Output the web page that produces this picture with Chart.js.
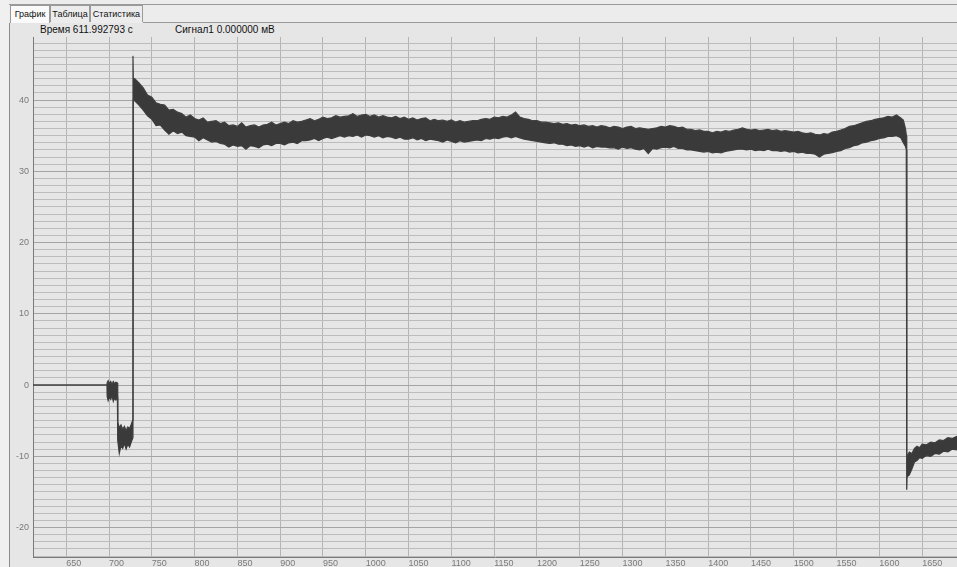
<!DOCTYPE html>
<html>
<head>
<meta charset="utf-8">
<script src="https://cdn.jsdelivr.net/npm/chart.js@4.4.1/dist/chart.umd.min.js"></script>
<style>
  html,body{margin:0;padding:0;}
  body{width:957px;height:567px;overflow:hidden;background:#e6e6e6;position:relative;font-family:"Liberation Sans",Arial,sans-serif;}
  #leftstrip{position:absolute;left:0;top:0;width:9px;height:567px;background:#f0f0f0;}
  #frame{position:absolute;left:9px;top:23px;width:1px;height:544px;background:#8a8a8a;}
  #topbar{position:absolute;left:9px;top:0;width:948px;height:23px;background:#ececec;}
  #topline{position:absolute;left:9px;top:4px;width:948px;height:1px;background:#9a9a9a;}
  #tabline{position:absolute;left:143px;top:22px;width:814px;height:1px;background:#9a9a9a;}
  .tab{position:absolute;top:5px;height:17px;border:1px solid #9a9a9a;border-bottom:none;font-size:9px;line-height:17px;text-align:center;color:#111;background:#ececec;box-sizing:border-box;}
  #tab1{left:10px;width:40px;background:#fafafa;height:18px;}
  #tab2{left:50px;width:40px;}
  #tab3{left:90px;width:53px;}
  .hdr{position:absolute;top:23px;font-size:10px;line-height:13px;color:#111;}
  #h1{left:40px;}
  #h2{left:175px;}
  #c{position:absolute;left:0;top:0;}
</style>
</head>
<body>
<div id="leftstrip"></div>
<div id="topbar"></div>
<div id="topline"></div>
<div id="tabline"></div>
<div id="frame"></div>
<div class="tab" id="tab1">График</div>
<div class="tab" id="tab2">Таблица</div>
<div class="tab" id="tab3">Статистика</div>
<div class="hdr" id="h1">Время 611.992793 с</div>
<div class="hdr" id="h2">Сигнал1 0.000000 мВ</div>
<canvas id="c" width="957" height="567"></canvas>
<script>
// ---- data: time (s) and the upper / lower edge of the noisy signal band (mV) ----
const timeX = [
  611.2, 697.6, 697.8, 699, 700.5, 702, 703.5, 705, 706.5, 708, 709.8,
  710.2, 712, 714, 716, 718, 720, 722, 724, 726, 727.8, 728, 728.4,
  730, 735, 740, 745, 750, 755, 760, 765, 770, 775,
  780, 785, 790, 795, 800, 805, 810, 815, 820, 825,
  830, 835, 840, 845, 850, 855, 860, 865, 870, 875,
  880, 885, 890, 895, 900, 905, 910, 915, 920, 925,
  930, 935, 940, 945, 950, 955, 960, 965, 970, 975,
  980, 985, 990, 995, 1000, 1005, 1010, 1015, 1020, 1025,
  1030, 1035, 1040, 1045, 1050, 1055, 1060, 1065, 1070, 1075,
  1080, 1085, 1090, 1095, 1100, 1105, 1110, 1115, 1120, 1125,
  1130, 1135, 1140, 1145, 1150, 1155, 1160, 1165, 1170, 1175,
  1180, 1185, 1190, 1195, 1200, 1205, 1210, 1215, 1220, 1225,
  1230, 1235, 1240, 1245, 1250, 1255, 1260, 1265, 1270, 1275,
  1280, 1285, 1290, 1295, 1300, 1305, 1310, 1315, 1320, 1325,
  1330, 1335, 1340, 1345, 1350, 1355, 1360, 1365, 1370, 1375,
  1380, 1385, 1390, 1395, 1400, 1405, 1410, 1415, 1420, 1425,
  1430, 1435, 1440, 1445, 1450, 1455, 1460, 1465, 1470, 1475,
  1480, 1485, 1490, 1495, 1500, 1505, 1510, 1515, 1520, 1525,
  1530, 1535, 1540, 1545, 1550, 1555, 1560, 1565, 1570, 1575,
  1580, 1585, 1590, 1595, 1600, 1605, 1610, 1615, 1620, 1625,
  1628, 1630.5, 1631.6, 1632, 1632.4, 1635, 1638, 1641, 1644, 1647,
  1650, 1655, 1660, 1665, 1670, 1675, 1680, 1685, 1690.7];
const upperMv = [
  0, 0, 0.3, 0.6, 0.2, 0.5, 0.1, 0.5, 0.2, 0.4, 0.3,
  -5.2, -6.0, -5.6, -6.2, -5.8, -6.4, -5.9, -6.1, -5.5, -4.9, 46.2, 43.0,
  43.0, 42.4, 41.7, 40.7, 40.4, 39.6, 39.4, 39.3, 38.6, 38.7,
  38.3, 38.1, 37.6, 37.9, 37.4, 37.2, 37.5, 36.9, 37.0, 37.1,
  36.7, 36.9, 36.4, 36.5, 36.3, 36.8, 36.2, 36.4, 36.5, 36.2,
  36.5, 36.6, 36.9, 36.5, 36.7, 36.9, 36.7, 37.1, 36.9, 37.0,
  37.2, 37.4, 37.1, 37.3, 37.6, 37.4, 37.5, 37.8, 37.6, 37.7,
  37.8, 38.1, 37.7, 37.9, 38.0, 37.7, 37.9, 37.6, 37.8, 37.6,
  37.5, 37.7, 37.4, 37.6, 37.3, 37.5, 37.2, 37.4, 37.5, 37.1,
  37.3, 37.1, 37.2, 37.0, 37.2, 36.9, 37.1, 36.9, 37.0, 37.1,
  37.1, 37.3, 37.4, 37.3, 37.6, 37.5, 37.7, 37.6, 37.9, 38.3,
  37.6, 37.4, 37.3, 37.1, 37.1, 36.9, 36.9, 36.8, 36.7, 36.8,
  36.6, 36.7, 36.5, 36.6, 36.4, 36.5, 36.3, 36.4, 36.2, 36.4,
  36.3, 36.1, 36.3, 36.2, 36.0, 36.2, 36.3, 36.0, 36.1, 36.0,
  35.9, 36.0, 36.1, 36.3, 36.2, 36.4, 36.3, 36.1, 36.2, 35.9,
  35.9, 35.7, 35.8, 35.6, 35.6, 35.4, 35.6, 35.5, 35.7, 35.6,
  35.8, 35.9, 36.1, 35.9, 35.8, 35.9, 35.7, 35.8, 35.9, 35.7,
  35.8, 35.6, 35.7, 35.6, 35.5, 35.6, 35.4, 35.3, 35.4, 35.2,
  35.1, 35.3, 35.2, 35.5, 35.6, 35.8, 36.0, 36.3, 36.4, 36.6,
  36.8, 37.0, 37.1, 37.3, 37.4, 37.5, 37.7, 37.6, 37.9, 37.5,
  37.2, 36.0, 35.0, -10.0, -10.0, -9.4, -9.6, -8.9, -8.6, -8.8,
  -8.3, -8.4, -8.0, -8.1, -7.7, -7.8, -7.4, -7.5, -7.2];
const lowerMv = [
  0, 0, -1.6, -2.2, -1.7, -2.0, -1.5, -2.3, -1.8, -2.1, -1.6,
  -7.8, -9.6, -8.5, -8.9, -8.2, -9.0, -8.3, -8.7, -8.0, -7.4, -6.0, 40.0,
  39.9, 39.3, 38.6, 37.8, 37.3, 36.4, 36.5, 35.8, 35.2, 35.7,
  35.3, 35.5, 35.0, 34.9, 34.8, 34.3, 34.7, 34.4, 34.1, 34.2,
  33.9, 33.8, 33.4, 33.7, 33.5, 33.6, 33.1, 33.6, 33.5, 33.3,
  33.7, 33.8, 33.6, 33.9, 33.9, 33.7, 34.0, 34.1, 33.9, 34.3,
  34.3, 34.4, 34.6, 34.3, 34.6, 34.8, 34.6, 34.8, 35.0, 34.8,
  35.0, 34.9, 35.1, 34.8, 35.1, 35.0, 34.8, 35.0, 34.7, 34.9,
  34.8, 34.6, 34.8, 34.5, 34.5, 34.7, 34.4, 34.6, 34.3, 34.5,
  34.4, 34.3, 34.1, 34.4, 34.2, 34.0, 34.3, 34.1, 34.2, 34.3,
  34.4, 34.3, 34.6, 34.5, 34.7, 34.6, 34.8, 34.9, 34.7, 34.9,
  34.7, 34.5, 34.4, 34.3, 34.2, 34.1, 34.0, 33.9, 34.0, 33.8,
  33.8, 33.6, 33.7, 33.5, 33.6, 33.4, 33.6, 33.3, 33.5, 33.4,
  33.4, 33.3, 33.3, 33.1, 33.4, 33.2, 33.3, 33.1, 33.0, 33.2,
  32.5, 33.2, 33.1, 33.3, 33.4, 33.3, 33.5, 33.2, 33.2, 33.0,
  33.0, 32.9, 32.8, 32.7, 32.8, 32.6, 32.7, 32.6, 32.8, 32.9,
  33.0, 33.1, 33.1, 33.0, 33.1, 32.9, 33.0, 32.9, 33.1, 32.9,
  32.9, 32.8, 32.9, 32.7, 32.8, 32.6, 32.7, 32.5, 32.5, 32.4,
  32.0, 32.4, 32.5, 32.6, 32.8, 32.9, 33.2, 33.3, 33.6, 33.7,
  34.0, 34.1, 34.3, 34.4, 34.6, 34.7, 34.9, 34.9, 35.0, 34.7,
  34.0, 33.5, 33.0, -14.7, -12.9, -12.6, -11.8, -10.8, -10.6, -10.2,
  -10.3, -9.9, -10.0, -9.6, -9.7, -9.3, -9.4, -9.0, -9.1];
const xTicks = [650, 700, 750, 800, 850, 900, 950, 1000, 1050, 1100, 1150, 1200, 1250, 1300, 1350, 1400, 1450, 1500, 1550, 1600, 1650];
const yTicks = [-24, -23, -22, -21, -20, -19, -18, -17, -16, -15, -14, -13, -12, -11, -10, -9, -8, -7, -6, -5, -4, -3, -2, -1,
  0, 1, 2, 3, 4, 5, 6, 7, 8, 9, 10, 11, 12, 13, 14, 15, 16, 17, 18, 19, 20, 21, 22, 23, 24, 25, 26, 27, 28, 29, 30,
  31, 32, 33, 34, 35, 36, 37, 38, 39, 40, 41, 42, 43, 44, 45, 46, 47, 48];

const upperPts = timeX.map((x, i) => ({x, y: upperMv[i]}));
const lowerPts = timeX.map((x, i) => ({x, y: lowerMv[i]}));

const bgPlugin = {
  id: 'plotbg',
  beforeDraw(chart) {
    const {ctx, chartArea: a} = chart;
    ctx.save();
    ctx.fillStyle = '#e6e6e6';
    ctx.fillRect(a.left, a.top, a.right - a.left, a.bottom - a.top);
    ctx.restore();
  }
};

new Chart(document.getElementById('c'), {
  type: 'line',
  data: {
    datasets: [
      {label: 'Сигнал1 max', data: upperPts, borderColor: '#404040', backgroundColor: '#3a3a3a', borderWidth: 1.2,
       pointRadius: 0, tension: 0, fill: '+1'},
      {label: 'Сигнал1 min', data: lowerPts, borderColor: '#404040', backgroundColor: '#3a3a3a', borderWidth: 1.2,
       pointRadius: 0, tension: 0, fill: false}
    ]
  },
  options: {
    responsive: false,
    animation: false,
    events: [],
    layout: {padding: {left: 9, right: 0, top: 37, bottom: 0}},
    plugins: {legend: {display: false}, tooltip: {enabled: false}},
    scales: {
      x: {
        type: 'linear', min: 611.2, max: 1690.7,
        afterBuildTicks: s => { s.ticks = xTicks.map(v => ({value: v})); },
        afterFit: s => { s.height = 10; },
        grid: {color: '#b4b4b4', lineWidth: 1, drawTicks: false},
        border: {display: true, color: '#7a7a7a', width: 1},
        ticks: {align: 'start', padding: 1, color: '#7a7a7a', font: {family: 'Liberation Sans', size: 9},
                maxRotation: 0, autoSkip: false, callback: v => String(v)}
      },
      y: {
        type: 'linear', min: -24.14, max: 48.85,
        afterBuildTicks: s => { s.ticks = yTicks.map(v => ({value: v})); },
        afterFit: s => { s.width = 24; },
        grid: {color: c => (c.tick && c.tick.value % 10 === 0) ? '#a4a4a4' : '#bcbcbc', lineWidth: 1, drawTicks: false},
        border: {display: true, color: '#7a7a7a', width: 1},
        ticks: {padding: 4, color: '#7a7a7a', font: {family: 'Liberation Sans', size: 9}, autoSkip: false,
                callback: v => (v % 10 === 0 ? String(v) : '')}
      }
    }
  },
  plugins: [bgPlugin]
});
</script>
</body>
</html>
